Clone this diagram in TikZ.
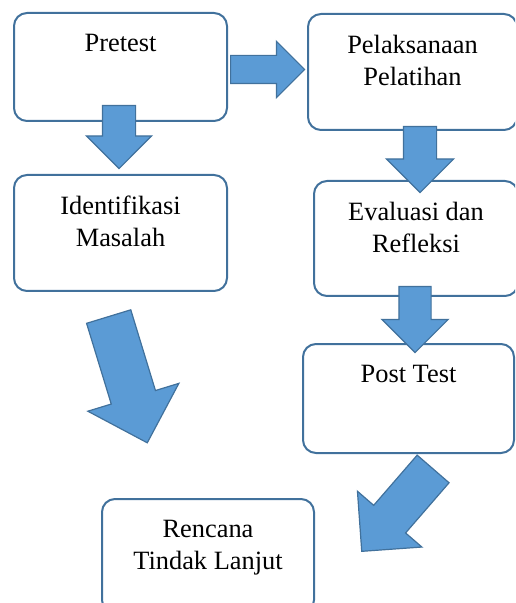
\documentclass[tikz,border=0pt]{standalone}
\usepackage{fontspec}
\setmainfont{Liberation Serif}
\usetikzlibrary{shapes.arrows}
\definecolor{boxline}{HTML}{41719C}
\definecolor{arrowfill}{HTML}{5B9BD5}
\begin{document}
\begin{tikzpicture}[x=0.5pt,y=-0.5pt]
\tikzstyle{box} = [rectangle, draw=boxline, line width=1pt, rounded corners=6.5pt, inner sep=0pt]
\tikzstyle{boxtext} = [font=\fontsize{13.2}{16}\selectfont, align=center, anchor=north, inner sep=0pt, yshift=-11pt]
\tikzstyle{blockarrow} = [single arrow, draw=boxline, fill=arrowfill, line width=0.6pt,
inner xsep=0pt, single arrow tip angle=90, anchor=tail]
\useasboundingbox (0,0) rectangle (515,603);
\clip (0,0) rectangle (515,603);
% left column
\node [box, minimum width=106.5pt, minimum height=54pt] (pretest) at (120.5,67) {};
\node [boxtext] (pretestlbl) at (pretest.north) {Pretest};
\node [box, minimum width=106.5pt, minimum height=58pt] (identifikasi) at (120.5,233) {};
\node [boxtext] (identifikasilbl) at (identifikasi.north) {Identifikasi\\Masalah};
% right column
\node [box, minimum width=104.5pt, minimum height=58pt] (pelaksanaan) at (412.5,72) {};
\node [boxtext] (pelaksanaanlbl) at (pelaksanaan.north) {Pelaksanaan\\Pelatihan};
\node [box, minimum width=102pt, minimum height=57.5pt] (evaluasi) at (416,238.5) {};
\node [boxtext] (evaluasilbl) at (evaluasi.north) {Evaluasi dan\\Refleksi};
\node [box, minimum width=105.5pt, minimum height=54.5pt] (posttest) at (408.5,398.5) {};
\node [boxtext] (posttestlbl) at (posttest.north) {Post Test};
% bottom
\node [box, minimum width=106pt, minimum height=57pt] (rencana) at (208,556) {};
\node [boxtext] (rencanalbl) at (rencana.north) {Rencana\\Tindak Lanjut};
% block arrows
\node [blockarrow, inner ysep=6.75pt, minimum height=37pt, minimum width=27.5pt, single arrow head extend=7pt] (arrA) at (230,69.5) {};
\node [blockarrow, rotate=-90, inner ysep=8pt, minimum height=31.5pt, minimum width=32pt, single arrow head extend=8pt] (arrB) at (119,105) {};
\node [blockarrow, rotate=-90, inner ysep=8pt, minimum height=33pt, minimum width=33pt, single arrow head extend=8.5pt] (arrC) at (420,126) {};
\node [blockarrow, rotate=-90, inner ysep=7.75pt, minimum height=33pt, minimum width=32.5pt, single arrow head extend=8.5pt] (arrD) at (415,286) {};
\node [blockarrow, rotate=-73, inner ysep=11.25pt, minimum height=66pt, minimum width=47pt, single arrow head extend=12.25pt] (arrE) at (108.5,316) {};
\node [blockarrow, rotate=-130.9, inner ysep=10.25pt, minimum height=54.5pt, minimum width=42pt, single arrow head extend=10.75pt] (arrF) at (433.5,468.5) {};
\end{tikzpicture}
\end{document}
